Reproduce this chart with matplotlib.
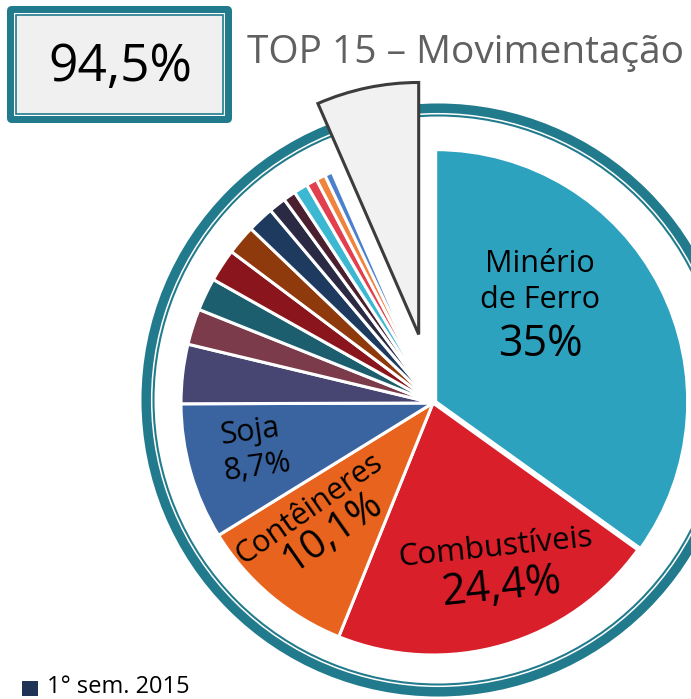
import matplotlib
matplotlib.use("Agg")
import matplotlib.pyplot as plt
from matplotlib.patches import Circle, FancyBboxPatch, Rectangle

plt.rcParams['font.family'] = ['Open Sans', 'DejaVu Sans']

# shares of each slice as drawn in the picture (clockwise from the top)
categories = ["Minério de Ferro", "Combustíveis", "Contêineres", "Soja",
              "p5", "p6", "p7", "p8", "p9", "p10", "p11", "p12",
              "p13", "p14", "p15", "p16", "Outros"]
shares = [34.9, 21.2, 10.1, 8.75,
          3.8, 2.3, 2.1, 2.1, 1.9, 1.7, 1.1, 0.8, 0.9, 0.7, 0.6, 0.5,
          6.55]
colors = ["#2ca2bf", "#d91f2a", "#e8641e", "#3a64a0",
          "#474672", "#7b3b4b", "#1c5e6d", "#8b151c", "#8e3a0c", "#1e3a5f",
          "#2a2a45", "#4a2030", "#3db8d3", "#e2404f", "#f0843e", "#4a80cc",
          "#f1f1f1"]

total_text = "94,5%"
title_text = "TOP 15 – Movimentação"
legend_text = "1° sem. 2015"

teal = "#217b8d"
W, H = 691, 699
R = 252
# offsets in data units (axes are in pixels)
explode = [3] + [0] * 15 + [70]

fig = plt.figure(figsize=(W / 100, H / 100), dpi=100)
ax = fig.add_axes([0, 0, 1, 1])

# outer decorative double ring
ax.add_patch(Circle((438, H - 400), 290, fill=False, ec=teal, lw=9.4, zorder=1))
ax.add_patch(Circle((438, H - 400), 286.3, fill=False, ec="white", lw=1.1, zorder=1))

wedges, _ = ax.pie(shares, colors=colors, explode=explode, startangle=90,
                   counterclock=False, center=(433, H - 403), radius=R,
                   frame=True,
                   wedgeprops=dict(edgecolor="white", linewidth=2.2, zorder=2))
wedges[-1].set_edgecolor("#3c3c3c")
wedges[-1].set_linewidth(2.2)
wedges[-1].set_zorder(3)

# slice labels
lab = dict(ha="center", va="center", color="black", rotation_mode="anchor", zorder=5)
ax.text(540, H - 264, "Minério", fontsize=22, **lab)
ax.text(540, H - 300, "de Ferro", fontsize=22, **lab)
ax.text(540, H - 345, "35%", fontsize=31, **lab)
ax.text(495, H - 548, "Combustíveis", fontsize=22.5, rotation=6, **lab)
ax.text(502, H - 588, "24,4%", fontsize=31, rotation=6, **lab)
ax.text(309, H - 509, "Contêineres", fontsize=22, rotation=35, **lab)
ax.text(333, H - 532, "10,1%", fontsize=29, rotation=35, **lab)
ax.text(250, H - 432, "Soja", fontsize=22, rotation=8, **lab)
ax.text(257, H - 467, "8,7%", fontsize=22, rotation=8, **lab)

# total box
ax.add_patch(FancyBboxPatch((7, H - 123), 225, 117, boxstyle="round,pad=0,rounding_size=5",
                            fc=teal, ec="none", zorder=4))
ax.add_patch(Rectangle((14, H - 116), 211, 103, fc="white", ec="none", zorder=4))
ax.add_patch(Rectangle((16, H - 114), 207, 99, fc="#f0f0f0", ec=teal, lw=1.2, zorder=4))
ax.text(120, H - 67, total_text, fontsize=37, ha="center", va="center", color="black", zorder=5)

ax.text(247, H - 63, title_text, fontsize=28, ha="left", va="baseline", color="#606060")

# legend
ax.add_patch(Rectangle((22, 3), 16, 15, fc="#1e3356", ec="none"))
ax.text(47, 6, legend_text, fontsize=17, ha="left", va="baseline", color="black")

ax.set_xlim(0, W)
ax.set_ylim(0, H)
ax.set_aspect("auto")
ax.axis("off")

fig.savefig("out.png", dpi=100)
